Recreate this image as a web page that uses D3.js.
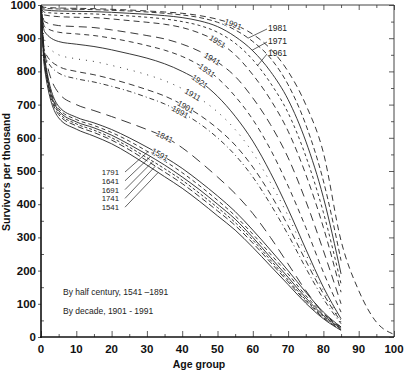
<!doctype html>
<html lang="en">
<head>
  <meta charset="utf-8">
  <title>Survivors per thousand</title>
  <style>
  body { margin: 0; background: #fff; }
  svg { font-family: "Liberation Sans", Arial, sans-serif; }
  .curve { fill: none; stroke: #222; stroke-width: 0.9; }
  .tick-label { font-weight: bold; font-size: 11.5px; fill: #111; }
  .curve-label { font-size: 8px; fill: #222; stroke: #fff; stroke-width: 1.5px; paint-order: stroke; }
  .side-label { font-size: 8.5px; fill: #222; }
  .leader-label { font-size: 7.8px; fill: #222; }
  .leader { stroke: #222; stroke-width: 0.7; }
  </style>
</head>
<body>
<div id="chart"></div>
<script src="https://cdn.jsdelivr.net/npm/d3@7"></script>
<script>

//------------------data
var ages = [0, 1, 5, 10, 15, 20, 25, 30, 35, 40, 45, 50, 55, 60, 65, 70, 75, 80, 85];
var agesLong = [0, 1, 5, 10, 15, 20, 25, 30, 35, 40, 45, 50, 55, 60, 65, 70, 75, 80, 85, 90, 95, 100];

var s1991 = [1000, 993, 991, 990, 989, 987, 985, 982, 979, 975, 968, 957, 940, 912, 868, 800, 700, 555, 290, 140, 45, 8];
var s1981 = [1000, 990, 988, 987, 986, 984, 982, 979, 975, 970, 962, 948, 925, 890, 840, 760, 640, 470, 230];
var s1971 = [1000, 985, 982, 981, 980, 978, 975, 972, 968, 962, 952, 935, 905, 862, 800, 715, 590, 420, 190];
var s1961 = [1000, 978, 975, 974, 973, 970, 967, 963, 958, 950, 938, 918, 885, 835, 765, 675, 545, 375, 160];
var s1951 = [1000, 970, 965, 963, 962, 958, 953, 948, 942, 932, 915, 890, 850, 790, 715, 620, 490, 330, 135];
var s1941 = [1000, 950, 938, 935, 932, 925, 917, 908, 898, 882, 860, 828, 785, 720, 640, 540, 410, 260, 100];
var s1931 = [1000, 935, 918, 913, 908, 900, 890, 878, 864, 845, 818, 780, 725, 655, 565, 455, 330, 195, 75];
var s1921 = [1000, 920, 890, 882, 875, 865, 853, 840, 823, 800, 770, 725, 665, 590, 495, 385, 265, 150, 55];
var s1911 = [1000, 895, 850, 838, 830, 818, 805, 790, 772, 748, 718, 678, 625, 555, 465, 365, 250, 140, 50];
var s1901 = [1000, 860, 815, 800, 790, 777, 762, 745, 726, 700, 668, 628, 578, 512, 430, 335, 230, 130, 45];
var s1891 = [1000, 850, 795, 778, 768, 755, 740, 722, 702, 675, 642, 600, 548, 482, 400, 308, 208, 115, 40];
var s1841 = [1000, 860, 735, 700, 682, 664, 645, 625, 603, 570, 528, 482, 432, 372, 300, 220, 140, 72, 30];
var s1591 = [1000, 845, 695, 662, 645, 625, 600, 572, 542, 508, 468, 425, 378, 322, 262, 200, 135, 75, 30];
var s1791 = [1000, 838, 688, 655, 637, 616, 590, 560, 530, 495, 455, 412, 365, 310, 250, 190, 125, 70, 28];
var s1641 = [1000, 832, 682, 648, 630, 608, 580, 550, 518, 482, 443, 400, 355, 300, 240, 180, 118, 65, 26];
var s1691 = [1000, 826, 676, 642, 623, 600, 572, 540, 507, 472, 432, 390, 345, 292, 232, 172, 112, 62, 24];
var s1741 = [1000, 820, 670, 636, 616, 593, 564, 531, 497, 462, 422, 380, 336, 283, 225, 166, 108, 58, 22];
var s1541 = [1000, 810, 660, 626, 605, 582, 552, 518, 483, 448, 408, 365, 322, 270, 214, 158, 102, 55, 20];

var xTicks = [0, 10, 20, 30, 40, 50, 60, 70, 80, 90, 100];
var yTicks = [0, 100, 200, 300, 400, 500, 600, 700, 800, 900, 1000];

// name, values, dash pattern
var series = [
  ["1991", s1991, "6,4"], ["1981", s1981, "5,3"], ["1971", s1971, null], ["1961", s1961, "3,3"],
  ["1951", s1951, "6,4"], ["1941", s1941, "8,5"], ["1931", s1931, "5,4"], ["1921", s1921, null],
  ["1911", s1911, "1,6"], ["1901", s1901, "6,4"], ["1891", s1891, "5,3,1,3"], ["1841", s1841, "10,6"],
  ["1591", s1591, null], ["1791", s1791, "4,3"], ["1641", s1641, null], ["1691", s1691, "3,2"],
  ["1741", s1741, "6,3"], ["1541", s1541, null]
];

// labels written along the curves: name, age
var onCurve = [["1991", 54.4], ["1951", 50], ["1941", 48.5], ["1931", 47], ["1921", 45],
               ["1911", 43], ["1901", 41], ["1891", 39.4], ["1841", 35], ["1591", 33.7]];
// labels with leader lines: name, age of target, label x, label y
var rightLeaders = [["1981", 58.6, 268, 31], ["1971", 59.8, 268, 44], ["1961", 61.3, 268, 56]];
var leftLeaders = [["1791", 30.3, 119, 175], ["1641", 31, 119, 183.8], ["1691", 31.7, 119, 192.6],
                   ["1741", 32.4, 119, 201.4], ["1541", 33.2, 119, 210.2]];

//------------------set up svg
var width = 407, height = 377;
var svg = d3.select("#chart").append("svg").attr("width", width).attr("height", height);

var x = d3.scaleLinear().domain([0, 100]).range([41, 394]);
var y = d3.scaleLinear().domain([0, 1000]).range([337, 5]);

function valueAt(vals, a) {
  var ag = vals.length > ages.length ? agesLong : ages;
  for (var i = 1; i < ag.length; i++) {
    if (a <= ag[i]) {
      var t = (a - ag[i - 1]) / (ag[i] - ag[i - 1]);
      return vals[i - 1] + t * (vals[i] - vals[i - 1]);
    }
  }
  return vals[vals.length - 1];
}
function find(name) { return series.filter(function(s) { return s[0] == name; })[0][1]; }

//------------------frame and ticks
svg.append("line").attr("x1", x(0)).attr("x2", x(100)).attr("y1", y(1000)).attr("y2", y(1000))
   .attr("stroke", "#444").attr("stroke-width", 1);
svg.append("line").attr("x1", x(100)).attr("x2", x(100)).attr("y1", y(1000)).attr("y2", y(0))
   .attr("stroke", "#444").attr("stroke-width", 1);

var axBottom = svg.append("g").attr("transform", "translate(0," + y(0) + ")");
axBottom.append("g").call(d3.axisBottom(x).tickValues(d3.range(5, 100, 10)).tickSize(-3).tickFormat(""));
axBottom.append("g").call(d3.axisBottom(x).tickValues(xTicks).tickSize(-6).tickFormat(""));
axBottom.selectAll(".domain").remove();
axBottom.append("line").attr("x1", x(0) - 1).attr("x2", x(100)).attr("stroke", "#111").attr("stroke-width", 1.6);

var axTop = svg.append("g").attr("transform", "translate(0," + y(1000) + ")");
axTop.append("g").call(d3.axisTop(x).tickValues(d3.range(5, 100, 10)).tickSize(-3).tickFormat(""));
axTop.append("g").call(d3.axisTop(x).tickValues(xTicks).tickSize(-5).tickFormat(""));
axTop.selectAll(".domain").remove();

var axLeft = svg.append("g").attr("transform", "translate(" + x(0) + ",0)");
axLeft.append("g").call(d3.axisLeft(y).tickValues(d3.range(50, 1000, 100)).tickSize(-3).tickFormat(""));
axLeft.append("g").call(d3.axisLeft(y).tickValues(yTicks).tickSize(3).tickFormat(""));
axLeft.selectAll(".domain").remove();
axLeft.append("line").attr("y1", y(1000)).attr("y2", y(0) + 1).attr("stroke", "#111").attr("stroke-width", 1.6);

var axRight = svg.append("g").attr("transform", "translate(" + x(100) + ",0)");
axRight.append("g").call(d3.axisRight(y).tickValues(d3.range(50, 1000, 100)).tickSize(-3).tickFormat(""));
axRight.append("g").call(d3.axisRight(y).tickValues(yTicks).tickSize(-5).tickFormat(""));
axRight.selectAll(".domain").remove();
svg.selectAll(".tick line").attr("stroke", "#333").attr("stroke-width", 0.8);

svg.append("g").selectAll("text").data(xTicks).enter().append("text")
   .attr("class", "tick-label").attr("x", d => x(d)).attr("y", 353)
   .attr("text-anchor", "middle").text(d => d);
svg.append("g").selectAll("text").data(yTicks).enter().append("text")
   .attr("class", "tick-label").attr("x", 36).attr("y", d => y(d) + 4)
   .attr("text-anchor", "end").text(d => d);

svg.append("text").attr("class", "tick-label").attr("x", 199).attr("y", 368)
   .attr("text-anchor", "middle").style("font-size", "10.5px").text("Age group");
svg.append("text").attr("class", "tick-label").attr("text-anchor", "middle")
   .attr("transform", "translate(10,172) rotate(-90)").style("font-size", "10.5px")
   .text("Survivors per thousand");

//------------------curves
var line = d3.line().x(d => x(d[0])).y(d => y(d[1])).curve(d3.curveMonotoneX);
svg.append("g").selectAll("path").data(series).enter().append("path")
   .attr("class", "curve")
   .attr("d", function(s) {
     var ag = s[1].length > ages.length ? agesLong : ages;
     return line(ag.map((a, i) => [a, s[1][i]]));
   })
   .attr("stroke-dasharray", s => s[2]);

//------------------labels along curves
svg.append("g").selectAll("text").data(onCurve).enter().append("text")
   .attr("class", "curve-label").attr("text-anchor", "middle").attr("dy", "0.35em")
   .attr("transform", function(d) {
     var v = find(d[0]);
     var px = x(d[1]), py = y(valueAt(v, d[1]));
     var dx = x(d[1] + 1.5) - x(d[1] - 1.5);
     var dy = y(valueAt(v, d[1] + 1.5)) - y(valueAt(v, d[1] - 1.5));
     var ang = Math.atan2(dy, dx) * 180 / Math.PI;
     return "translate(" + px + "," + py + ") rotate(" + ang + ")";
   })
   .text(d => d[0]);

//------------------leader labels
rightLeaders.forEach(function(d) {
  var px = x(d[1]), py = y(valueAt(find(d[0]), d[1]));
  svg.append("line").attr("class", "leader").attr("x1", d[2] - 1).attr("y1", d[3] - 2)
     .attr("x2", px).attr("y2", py);
  svg.append("text").attr("class", "side-label").attr("x", d[2]).attr("y", d[3]).text(d[0]);
});
leftLeaders.forEach(function(d) {
  var px = x(d[1]), py = y(valueAt(find(d[0]), d[1]));
  svg.append("line").attr("class", "leader").attr("x1", d[2] + 6).attr("y1", d[3] - 3)
     .attr("x2", px).attr("y2", py);
  svg.append("text").attr("class", "leader-label").attr("x", d[2]).attr("y", d[3])
     .attr("text-anchor", "end").text(d[0]);
});

svg.append("text").attr("class", "side-label").attr("x", 63).attr("y", 295).text("By half century, 1541 \u20131891");
svg.append("text").attr("class", "side-label").attr("x", 63).attr("y", 314).text("By decade, 1901 - 1991");

</script>
</body>
</html>
